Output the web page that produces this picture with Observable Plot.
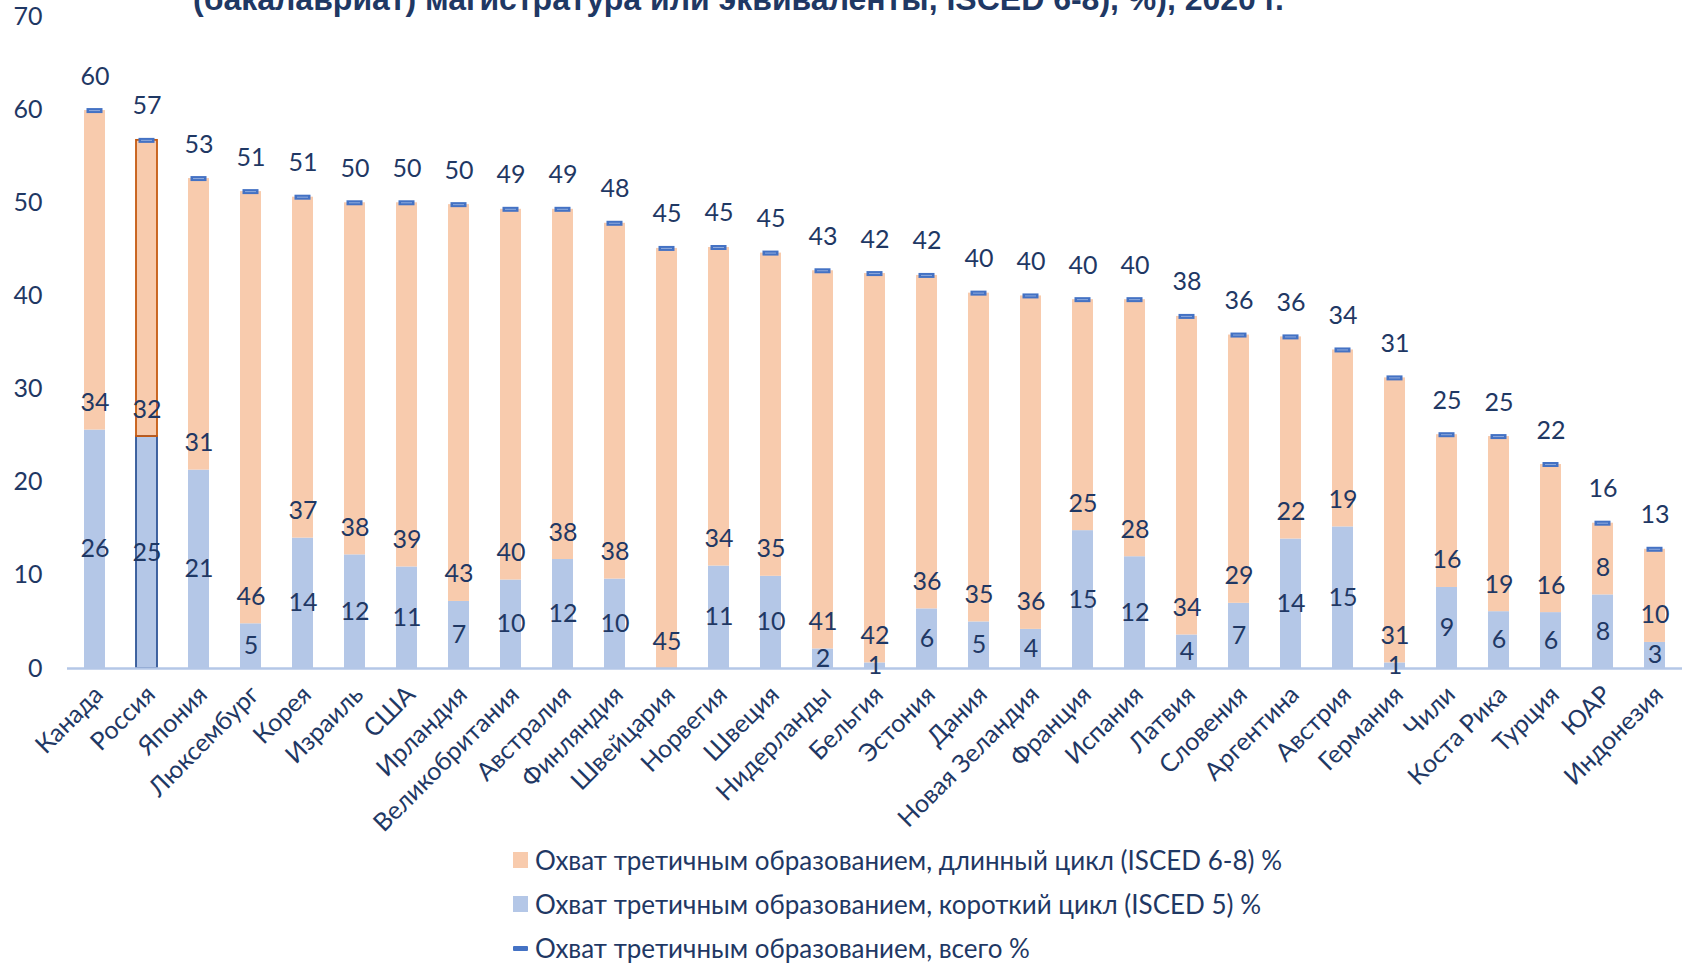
<!DOCTYPE html>
<html>
<head>
<meta charset="utf-8">
<script src="https://cdn.jsdelivr.net/npm/d3@7"></script>
<script src="https://cdn.jsdelivr.net/npm/@observablehq/plot@0.6"></script>
<style>
  html, body { margin: 0; padding: 0; background: #fff; overflow: hidden; }
  body { width: 1696px; height: 963px; position: relative; }
  #title { position: absolute; z-index: 5; left: 193px; top: -16px; font-family: "Liberation Sans", Arial, sans-serif; font-weight: bold; font-size: 32px; line-height: 30px; color: #1F3864; white-space: nowrap; }
  #chart { position: absolute; left: 0; top: 0; z-index: 1; }
  #legend { position: absolute; left: 513px; top: 838px; font-family: "Liberation Sans Narrow", Lato, sans-serif; font-size: 26px; color: #1F3864; }
  .row { position: absolute; left: 0; height: 30px; display: flex; align-items: center; white-space: nowrap; }
  .sw { width: 15px; height: 16px; margin-right: 7px; flex: none; }
  .dash { width: 15px; height: 5px; margin-right: 7px; background: #4472C4; border-radius: 1px; flex: none; }
</style>
</head>
<body>
<div id="chart"></div>
<div id="title">(бакалавриат) магистратура или эквиваленты, ISCED 6-8), %), 2020 г.</div>
<div id="legend"></div>
<script>
const countries = ["Канада","Россия","Япония","Люксембург","Корея","Израиль","США","Ирландия","Великобритания","Австралия","Финляндия","Швейцария","Норвегия","Швеция","Нидерланды","Бельгия","Эстония","Дания","Новая Зеландия","Франция","Испания","Латвия","Словения","Аргентина","Австрия","Германия","Чили","Коста Рика","Турция","ЮАР","Индонезия"];
const shortCycle = [25.6,24.9,21.3,4.8,14.0,12.2,10.9,7.2,9.5,11.7,9.6,0,11.0,9.9,2.1,0.6,6.4,5.0,4.2,14.8,12.0,3.6,7.0,13.9,15.2,0.6,8.7,6.1,6.0,7.9,2.8];
const longCycle = [34.3,31.8,31.3,46.4,36.6,37.8,39.1,42.6,39.8,37.6,38.2,45.1,34.2,34.7,40.6,41.8,35.8,35.3,35.8,24.8,27.6,34.2,28.8,21.7,19.0,30.6,16.4,18.8,15.9,7.7,10.0];
const totalAll = [59.9,56.7,52.6,51.2,50.6,50.0,50.0,49.8,49.3,49.3,47.8,45.1,45.2,44.6,42.7,42.4,42.2,40.3,40.0,39.6,39.6,37.8,35.8,35.6,34.2,31.2,25.1,24.9,21.9,15.6,12.8];
const yTicks = [0,10,20,30,40,50,60,70];
const seriesNames = [
  "Охват третичным образованием, длинный цикл (ISCED 6-8) %",
  "Охват третичным образованием, короткий цикл (ISCED 5) %",
  "Охват третичным образованием, всего %"
];
const highlight = "Россия";

const TXT = "#1F3864";
const LONG = "#F8CBAD", SHORT = "#B4C7E7", TOT = "#4472C4";
const FONT = '"Liberation Sans Narrow", Lato, sans-serif';
const fmt = d3.format(".0f");

const rows = countries.map((c, i) => ({c, s: shortCycle[i], l: longCycle[i], t: totalAll[i]}));
const hi = rows.filter(d => d.c === highlight);

const chart = Plot.plot({
  width: 1696,
  height: 838,
  marginLeft: 67,
  marginRight: 14,
  marginTop: 16,
  marginBottom: 170,
  style: {fontFamily: FONT, fontSize: "25px", color: TXT, background: "white"},
  x: {domain: countries, paddingInner: 0.6, paddingOuter: 0.3, label: null},
  y: {domain: [0, 70], label: null},
  marks: [
    Plot.axisY({ticks: yTicks, tickSize: 0, tickPadding: 25, fontSize: 25, fill: TXT, label: null}),
    Plot.axisX({tickSize: 0, tickRotate: -45, tickPadding: 22, dx: 4, fontSize: 25, fill: TXT, label: null}),
    Plot.barY(rows, {x: "c", y1: 0, y2: "s", fill: SHORT}),
    Plot.barY(rows, {x: "c", y1: "s", y2: d => d.s + d.l, fill: LONG}),
    Plot.barY(hi, {x: "c", y1: 0, y2: "s", fill: "none", stroke: "#2F5597", strokeWidth: 1.8}),
    Plot.barY(hi, {x: "c", y1: "s", y2: d => d.s + d.l, fill: "none", stroke: "#C55A11", strokeWidth: 1.8}),
    Plot.ruleY([0], {stroke: SHORT, strokeWidth: 2.5}),
    Plot.tickY(rows, {x: "c", y: "t", stroke: TOT, strokeWidth: 5, insetLeft: 2.5, insetRight: 2.5}),
    Plot.tickY(rows, {x: "c", y: "t", stroke: "#8FAADC", strokeWidth: 1, insetLeft: 5, insetRight: 5}),
    Plot.text(rows, {x: "c", y: "t", text: d => fmt(d.t), dy: -34, fill: TXT, fontSize: 25}),
    Plot.text(rows, {x: "c", y: "s", text: d => fmt(d.l), dy: -27, fill: TXT, fontSize: 25}),
    Plot.text(rows.filter(d => d.s > 0), {x: "c", y: d => d.s / 2, text: d => fmt(d.s), fill: TXT, fontSize: 25})
  ]
});
document.getElementById("chart").appendChild(chart);

const legend = document.getElementById("legend");
const legendCenters = [22, 66, 110];
seriesNames.forEach((name, i) => {
  const row = document.createElement("div");
  row.className = "row";
  row.style.top = (legendCenters[i] - 15) + "px";
  const sw = document.createElement("div");
  if (i === 2) { sw.className = "dash"; }
  else { sw.className = "sw"; sw.style.background = i === 0 ? LONG : SHORT; }
  const t = document.createElement("span");
  t.textContent = name;
  row.appendChild(sw); row.appendChild(t);
  legend.appendChild(row);
});
</script>
</body>
</html>
